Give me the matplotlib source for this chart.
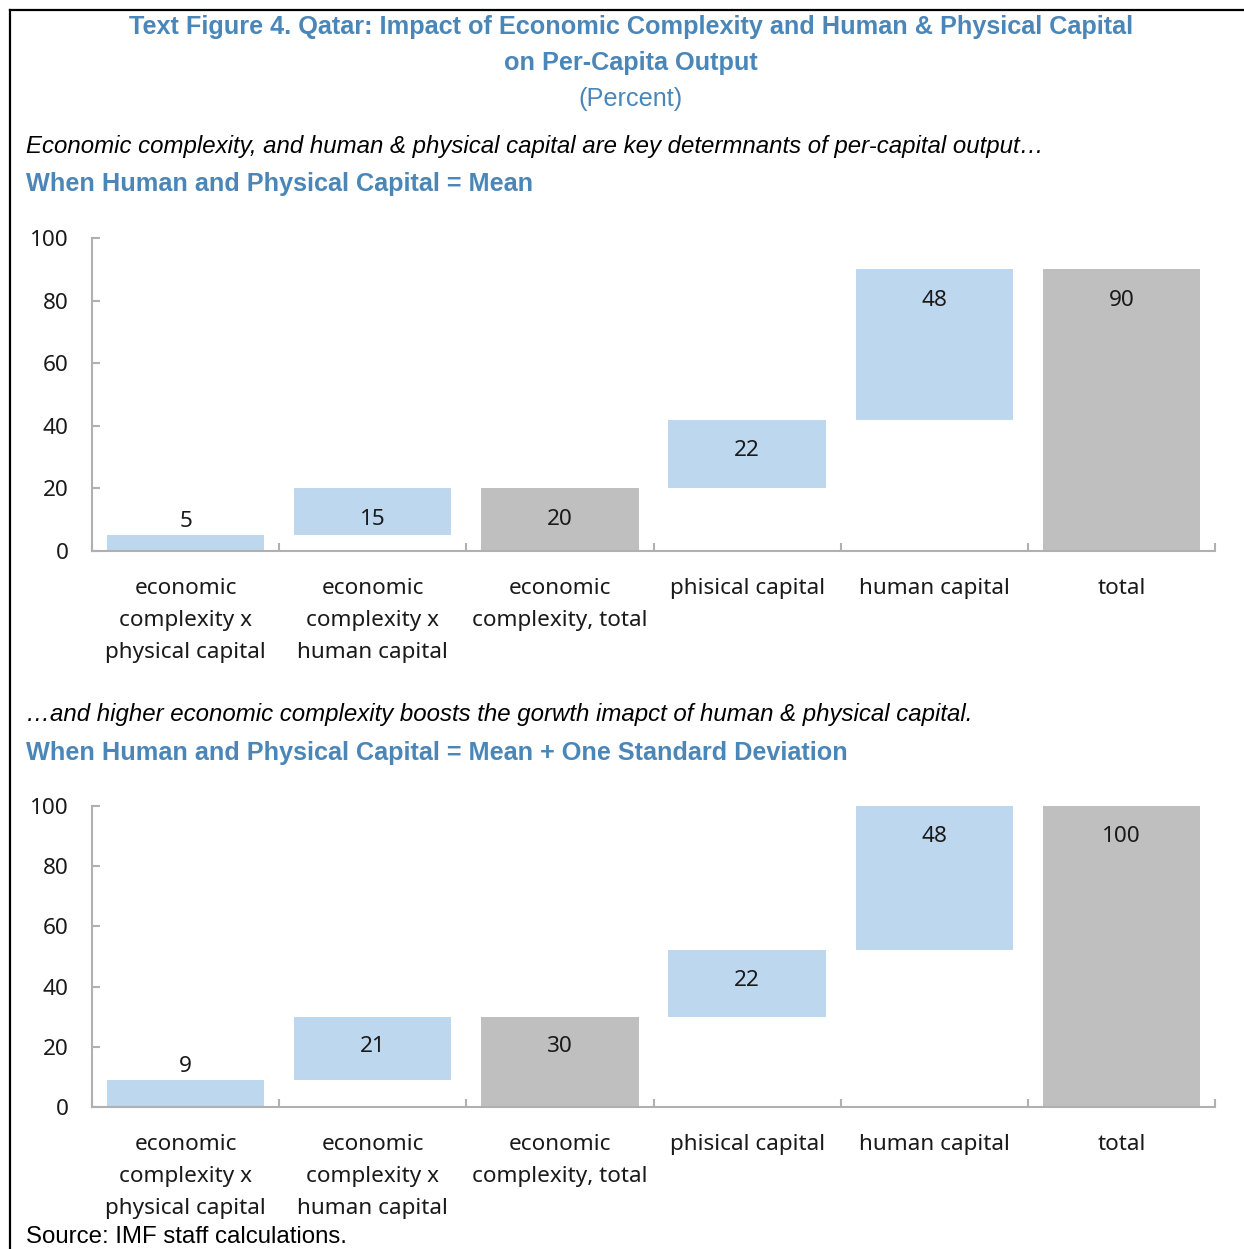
import matplotlib.pyplot as plt
from matplotlib.lines import Line2D

# ---- data ----
categories = [
    "economic\ncomplexity x\nphysical capital",
    "economic\ncomplexity x\nhuman capital",
    "economic\ncomplexity, total",
    "phisical capital",
    "human capital",
    "total",
]
mean_values = [5, 15, 20, 22, 48, 90]
mean_bases = [0, 5, 0, 20, 42, 0]
sd_values = [9, 21, 30, 22, 48, 100]
sd_bases = [0, 9, 0, 30, 52, 0]
is_total = [False, False, True, False, False, True]
y_ticks = [0, 20, 40, 60, 80, 100]

BLUE = "#bdd7ee"
GREY = "#bfbfbf"
SPINE = "#b0b0b0"
TITLE = "#4a86b8"
TICK_FONT = "Noto Sans"
HEAD_FONT = "Liberation Sans"
TICK_SIZE = 16.2

fig = plt.figure(figsize=(12.44, 12.49), dpi=100)
W, H = 1244, 1249


def fx(px):
    return px / W


def fy(py):
    return 1 - py / H


def waterfall(ax, values, bases):
    x = list(range(len(values)))
    colors = [GREY if t else BLUE for t in is_total]
    ax.bar(x, values, bottom=bases, width=0.84, color=colors, zorder=2)
    for xi, v, b in zip(x, values, bases):
        top = v + b
        # labels sit inside near the top, small bars get theirs above
        y = top - 10 if v > 10 else top + 4.5
        ax.text(xi, y, f"{v}", ha="center", va="center",
                fontsize=TICK_SIZE, family=TICK_FONT, color="#1a1a1a")
    ax.set_xlim(-0.5, len(values) - 0.5)
    ax.set_ylim(0, 100)
    ax.set_yticks(y_ticks)
    ax.set_xticks(x)
    ax.set_xticklabels(categories, fontsize=TICK_SIZE, family=TICK_FONT,
                       linespacing=1.68, color="#1a1a1a")
    ax.set_xticks([i - 0.5 for i in range(len(values) + 1)], minor=True)
    for lab in ax.get_yticklabels():
        lab.set_fontsize(TICK_SIZE)
        lab.set_family(TICK_FONT)
        lab.set_color("#1a1a1a")
    ax.tick_params(axis="x", which="major", length=0, pad=19.5)
    ax.tick_params(axis="x", which="minor", direction="in", length=6,
                   width=1.5, color=SPINE)
    ax.tick_params(axis="y", direction="in", length=6, width=1.5,
                   color=SPINE, pad=17)
    for s in ("top", "right"):
        ax.spines[s].set_visible(False)
    for s in ("left", "bottom"):
        ax.spines[s].set_color(SPINE)
        ax.spines[s].set_linewidth(1.5)


ax1 = fig.add_axes([fx(92), fy(551), fx(1215) - fx(92), fy(238) - fy(551)])
waterfall(ax1, mean_values, mean_bases)
ax2 = fig.add_axes([fx(92), fy(1107), fx(1215) - fx(92), fy(806) - fy(1107)])
waterfall(ax2, sd_values, sd_bases)

# ---- frame lines (top and left) ----
fig.add_artist(Line2D([fx(10), 1], [fy(10), fy(10)], color="black", lw=1.6))
fig.add_artist(Line2D([fx(10), fx(10)], [fy(10), 0], color="black", lw=1.6))

# ---- titles and texts ----
fig.text(fx(631), fy(27),
         "Text Figure 4. Qatar: Impact of Economic Complexity and Human & Physical Capital",
         ha="center", va="center", fontsize=18.2, weight="bold", color=TITLE,
         family=HEAD_FONT)
fig.text(fx(631), fy(63), "on Per-Capita Output", ha="center", va="center",
         fontsize=18.2, weight="bold", color=TITLE, family=HEAD_FONT)
fig.text(fx(631), fy(99), "(Percent)", ha="center", va="center",
         fontsize=18.2, color=TITLE, family=HEAD_FONT)

fig.text(fx(26), fy(146),
         "Economic complexity, and human & physical capital are key determnants of per-capital output\u2026",
         ha="left", va="center", fontsize=17.3, style="italic", color="black",
         family=HEAD_FONT)
fig.text(fx(26), fy(184), "When Human and Physical Capital = Mean",
         ha="left", va="center", fontsize=18.2, weight="bold", color=TITLE,
         family=HEAD_FONT)
fig.text(fx(26), fy(714),
         "\u2026and higher economic complexity boosts the gorwth imapct of human & physical capital.",
         ha="left", va="center", fontsize=17.3, style="italic", color="black",
         family=HEAD_FONT)
fig.text(fx(26), fy(753),
         "When Human and Physical Capital = Mean + One Standard Deviation",
         ha="left", va="center", fontsize=18.2, weight="bold", color=TITLE,
         family=HEAD_FONT)
fig.text(fx(26), fy(1237), "Source: IMF staff calculations.", ha="left",
         va="center", fontsize=17.3, color="black", family=HEAD_FONT)

fig.savefig("out.png", dpi=100)
